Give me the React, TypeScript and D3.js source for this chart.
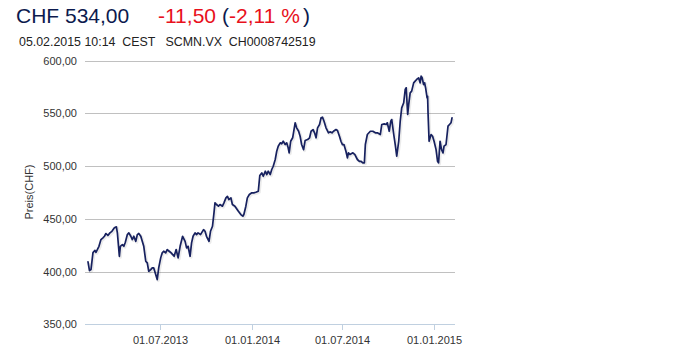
import React from "react";
import * as d3 from "d3";

const dates: string[] = [
  "2013-02-06","2013-02-09","2013-02-12","2013-02-16","2013-02-20","2013-02-22","2013-02-28","2013-03-04","2013-03-08","2013-03-11",
  "2013-03-14","2013-03-18","2013-03-22","2013-03-26","2013-03-31","2013-04-04","2013-04-06","2013-04-10","2013-04-12","2013-04-16",
  "2013-04-19","2013-04-22","2013-04-26","2013-04-29","2013-05-03","2013-05-06","2013-05-09","2013-05-13","2013-05-16","2013-05-19",
  "2013-05-23","2013-05-26","2013-05-29","2013-06-02","2013-06-05","2013-06-08","2013-06-12","2013-06-15","2013-06-18","2013-06-22",
  "2013-06-25","2013-06-28","2013-07-02","2013-07-05","2013-07-08","2013-07-12","2013-07-15","2013-07-19","2013-07-23","2013-07-29",
  "2013-08-02","2013-08-06","2013-08-10","2013-08-15","2013-08-20","2013-08-23","2013-08-26","2013-08-30","2013-09-02","2013-09-05",
  "2013-09-09","2013-09-12","2013-09-15","2013-09-20","2013-09-26","2013-09-29","2013-10-02","2013-10-07","2013-10-10","2013-10-14",
  "2013-10-17","2013-10-19","2013-10-22","2013-10-26","2013-10-29","2013-11-03","2013-11-06","2013-11-10","2013-11-13","2013-11-16",
  "2013-11-20","2013-11-23","2013-11-28","2013-12-05","2013-12-10","2013-12-14","2013-12-16","2013-12-20","2013-12-23","2013-12-27",
  "2014-01-01","2014-01-05","2014-01-09","2014-01-14","2014-01-17","2014-01-21","2014-01-24","2014-01-28","2014-01-31","2014-02-03",
  "2014-02-07","2014-02-10","2014-02-13","2014-02-17","2014-02-20","2014-02-23","2014-02-27","2014-03-02","2014-03-05","2014-03-09",
  "2014-03-12","2014-03-15","2014-03-17","2014-03-20","2014-03-24","2014-03-29","2014-04-01","2014-04-05","2014-04-08","2014-04-11",
  "2014-04-15","2014-04-18","2014-04-23","2014-04-27","2014-04-30","2014-05-04","2014-05-07","2014-05-10","2014-05-13","2014-05-17",
  "2014-05-20","2014-05-23","2014-05-26","2014-05-30","2014-06-04","2014-06-07","2014-06-11","2014-06-14","2014-06-19","2014-06-22",
  "2014-06-26","2014-06-29","2014-07-02","2014-07-05","2014-07-09","2014-07-12","2014-07-14","2014-07-17","2014-07-23","2014-07-27",
  "2014-08-01","2014-08-05","2014-08-08","2014-08-12","2014-08-15","2014-08-17","2014-08-21","2014-08-27","2014-09-01","2014-09-06",
  "2014-09-10","2014-09-16","2014-09-19","2014-09-24","2014-09-28","2014-09-30","2014-10-04","2014-10-07","2014-10-09","2014-10-13",
  "2014-10-16","2014-10-19","2014-10-23","2014-10-26","2014-10-29","2014-11-02","2014-11-05","2014-11-07","2014-11-10","2014-11-12",
  "2014-11-15","2014-11-18","2014-11-22","2014-11-25","2014-11-28","2014-12-02","2014-12-05","2014-12-07","2014-12-09","2014-12-12",
  "2014-12-14","2014-12-16","2014-12-19","2014-12-20","2014-12-21","2014-12-23","2014-12-27","2014-12-30","2015-01-02","2015-01-06",
  "2015-01-09","2015-01-11","2015-01-14","2015-01-17","2015-01-20","2015-01-22","2015-01-26","2015-01-30","2015-02-02","2015-02-05",
  "2015-02-07"
];

const prices: number[] = [
  409.2,400.9,401.9,418.0,420.2,418.3,424.0,430.4,432.0,433.5,
  436.1,434.2,436.7,438.2,441.5,442.4,436.7,414.5,424.0,425.6,
  424.0,427.8,435.1,436.7,433.5,430.4,433.5,428.7,435.1,436.1,
  433.5,428.7,424.0,409.8,408.3,400.3,401.9,403.5,403.5,397.2,
  392.4,403.5,413.0,417.7,419.3,417.7,420.9,419.3,417.7,414.5,
  420.9,413.0,424.0,433.5,428.7,422.5,424.0,414.5,427.2,433.5,
  436.7,435.1,436.7,435.1,439.8,438.2,433.5,428.7,438.2,443.0,
  455.7,465.2,463.6,462.0,463.6,462.0,465.2,469.9,471.4,468.3,
  469.9,463.6,462.0,457.2,454.1,452.5,454.1,462.0,469.9,473.1,
  474.7,474.7,475.2,476.2,491.1,493.6,490.4,495.2,492.0,495.2,
  492.0,496.8,499.9,506.3,514.1,518.9,522.1,521.2,523.6,520.5,
  522.1,517.4,512.6,523.6,526.9,541.1,536.3,533.1,528.4,520.5,
  515.7,524.3,525.2,526.9,533.1,534.7,531.6,526.9,536.3,539.5,
  545.8,546.4,542.6,536.3,531.6,532.5,531.6,533.1,534.7,533.8,
  528.4,523.6,520.5,520.5,514.1,507.9,512.6,511.0,512.6,511.0,
  506.3,504.6,504.6,503.1,503.1,520.5,530.0,533.1,533.1,531.6,
  531.6,530.0,539.5,540.1,539.5,541.1,533.1,542.6,544.2,530.0,
  520.5,509.4,523.6,542.6,555.3,560.1,572.7,574.3,549.0,558.4,
  569.5,571.1,579.0,580.6,582.2,583.8,579.0,585.3,583.8,577.4,
  579.0,574.3,564.8,566.3,549.0,523.6,530.0,528.4,523.6,515.7,
  504.6,503.1,523.6,515.7,512.6,518.9,520.5,537.9,539.5,541.1,
  545.8
];

const yTicks: number[] = [350, 400, 450, 500, 550, 600];
const xTickDates: string[] = ["2013-07-01", "2014-01-01", "2014-07-01", "2015-01-01"];

const headerPrice = "CHF 534,00";
const headerChange = "-11,50";
const headerPct = "-2,11 %";
const subLine = "05.02.2015 10:14  CEST   SCMN.VX  CH0008742519";
const yAxisTitle = "Preis(CHF)";

const W = 674;
const H = 355;
const FONT = "'Liberation Sans', Arial, Helvetica, sans-serif";

export default function App() {
  const parse = d3.timeParse("%Y-%m-%d");
  const data = dates.map((d, i) => ({ date: parse(d) as Date, value: prices[i] }));
  const plotLeft = 85;
  const plotRight = 455;

  const x = d3
    .scaleTime()
    .domain(d3.extent(data, (d) => d.date) as [Date, Date])
    .range([88, 452]);
  const y = d3.scaleLinear().domain([350, 600]).range([324.3, 60.7]);

  const line = d3
    .line<{ date: Date; value: number }>()
    .x((d) => x(d.date))
    .y((d) => y(d.value))
    .curve(d3.curveLinear);
  const path = line(data) || "";
  const fmtTick = d3.timeFormat("%d.%m.%Y");
  const fmtNum = (v: number) => v.toFixed(2).replace(".", ",");

  return (
    <svg
      width={W}
      height={H}
      style={{ position: "absolute", left: 0, top: 0, background: "#fff" }}
      fontFamily={FONT}
    >
      <text y={23} fontSize={21} fill="#0c1a4e">
        <tspan x={16}>{headerPrice}</tspan>
        <tspan x={158} fill="#e8101c">{headerChange}</tspan>
        <tspan x={222} fill="#0c1a4e">(</tspan>
        <tspan x={229} fill="#e8101c">{headerPct}</tspan>
        <tspan x={303} fill="#0c1a4e">)</tspan>
      </text>
      <text x={19} y={46} fontSize={12.4} fill="#222" style={{ whiteSpace: "pre" }}>
        {subLine}
      </text>

      {yTicks.map((t) => (
        <g key={t}>
          <line
            x1={plotLeft}
            x2={plotRight}
            y1={Math.round(y(t)) + 0.5}
            y2={Math.round(y(t)) + 0.5}
            stroke={t === 350 ? "#c0d0e0" : "#c0c0c0"}
            strokeWidth={1}
          />
          <text
            x={77}
            y={y(t) + 4}
            fontSize={11}
            fill="#333"
            textAnchor="end"
          >
            {fmtNum(t)}
          </text>
        </g>
      ))}

      {xTickDates.map((s) => {
        const dt = parse(s) as Date;
        const px = Math.round(x(dt)) + 0.5;
        return (
          <g key={s}>
            <line x1={px} x2={px} y1={324.5} y2={330} stroke="#c0d0e0" />
            <text x={px} y={344} fontSize={11} fill="#333" textAnchor="middle">
              {fmtTick(dt)}
            </text>
          </g>
        );
      })}

      <text
        transform={`translate(33,192) rotate(-90)`}
        fontSize={11}
        fill="#333"
        textAnchor="middle"
      >
        {yAxisTitle}
      </text>

      <path
        d={path}
        fill="none"
        stroke="rgba(0,0,0,0.08)"
        strokeWidth={3}
        transform="translate(1,1)"
        strokeLinejoin="round"
      />
      <path
        d={path}
        fill="none"
        stroke="#17215f"
        strokeWidth={1.7}
        strokeLinejoin="round"
        strokeLinecap="round"
      />
    </svg>
  );
}
